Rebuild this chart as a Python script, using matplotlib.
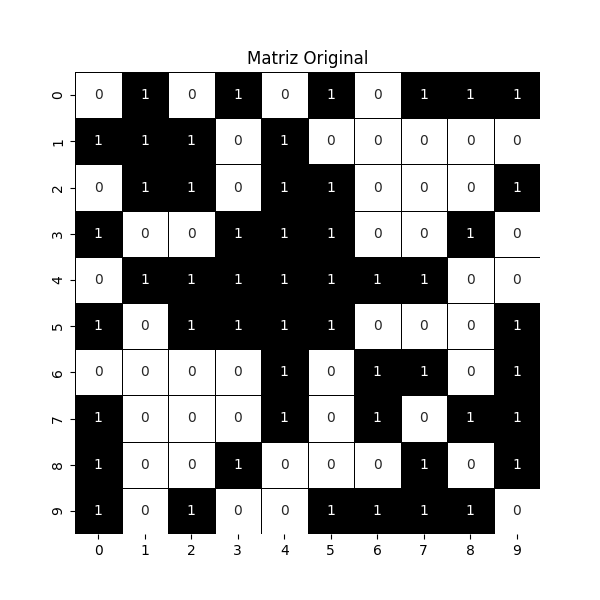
import matplotlib
matplotlib.use("Agg")
import matplotlib.pyplot as plt
import seaborn as sns
import numpy as np

row0 = [0, 1, 0, 1, 0, 1, 0, 1, 1, 1]
row1 = [1, 1, 1, 0, 1, 0, 0, 0, 0, 0]
row2 = [0, 1, 1, 0, 1, 1, 0, 0, 0, 1]
row3 = [1, 0, 0, 1, 1, 1, 0, 0, 1, 0]
row4 = [0, 1, 1, 1, 1, 1, 1, 1, 0, 0]
row5 = [1, 0, 1, 1, 1, 1, 0, 0, 0, 1]
row6 = [0, 0, 0, 0, 1, 0, 1, 1, 0, 1]
row7 = [1, 0, 0, 0, 1, 0, 1, 0, 1, 1]
row8 = [1, 0, 0, 1, 0, 0, 0, 1, 0, 1]
row9 = [1, 0, 1, 0, 0, 1, 1, 1, 1, 0]

matrix = np.array([row0, row1, row2, row3, row4, row5, row6, row7, row8, row9])

fig, ax = plt.subplots(figsize=(6, 6), dpi=100)
sns.heatmap(matrix, cmap="binary", annot=True, cbar=False,
            linewidths=0.5, linecolor="black", ax=ax)
ax.set_title("Matriz Original")
fig.savefig("out.png")
